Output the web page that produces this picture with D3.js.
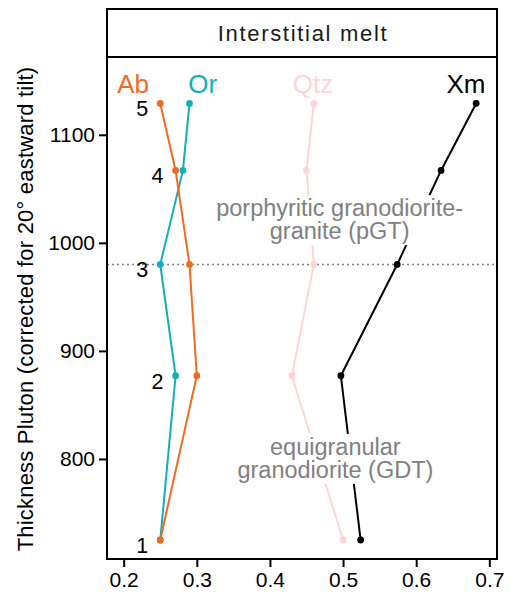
<!DOCTYPE html>
<html><head><meta charset="utf-8">
<script src="https://cdn.jsdelivr.net/npm/d3@7"></script>
<style>body{margin:0;background:#fff;} text{font-family:"Liberation Sans",Arial,sans-serif;}</style>
</head><body><svg id="c" width="511" height="605"></svg>
<script>
const levels = [1, 2, 3, 4, 5];
const thickness = [725, 877, 980, 1067, 1129];
const seriesNames = ["Qtz", "Xm", "Or", "Ab"];
const seriesColors = ["#FCD6D4", "#000000", "#13AFB8", "#F26A21"];
const abValues = [0.25, 0.300, 0.290, 0.271, 0.25];
const orValues = [0.25, 0.271, 0.25, 0.281, 0.29];
const qtzValues = [0.50, 0.430, 0.460, 0.450, 0.46];
const xmValues = [0.524, 0.497, 0.574, 0.634, 0.682];
const seriesLabelX = [0.459, 0.668, 0.308, 0.213];
const seriesLabelY = 1148;
const xTicks = [0.2, 0.3, 0.4, 0.5, 0.6, 0.7];
const yTicks = [800, 900, 1000, 1100];
const boundary = 980;
const annotations = [
  {lines: ["porphyritic granodiorite-", "granite (pGT)"], x: 0.4953, y: 1021.5},
  {lines: ["equigranular", "granodiorite (GDT)"], x: 0.4895, y: 800.5}
];

const seriesValues = {Qtz: qtzValues, Xm: xmValues, Or: orValues, Ab: abValues};

const svg = d3.select("#c");
const L = 107, R = 497, T = 57, B = 559, stripTop = 9;
const x = d3.scaleLinear().domain([0.1772, 0.7105]).range([L, R]);
const y = d3.scaleLinear().domain([707.4, 1172]).range([B, T]);

// strip
svg.append("rect").attr("x", L).attr("y", stripTop).attr("width", R - L).attr("height", T - stripTop)
  .attr("fill", "#fff").attr("stroke", "#000").attr("stroke-width", 2);
svg.append("text").attr("x", (L + R) / 2 + 1).attr("y", (stripTop + T) / 2 + 8).attr("text-anchor", "middle")
  .attr("font-size", 22).attr("letter-spacing", 1.7).attr("fill", "#1a1a1a").text("Interstitial melt");

// dotted boundary
svg.append("line").attr("x1", L).attr("x2", R).attr("y1", y(boundary)).attr("y2", y(boundary))
  .attr("stroke", "#7f7f7f").attr("stroke-width", 1.6).attr("stroke-dasharray", "2,3");

// series
seriesNames.forEach((name, i) => {
  const vals = seriesValues[name];
  const pts = levels.map((l, j) => [x(vals[j]), y(thickness[j])]);
  svg.append("path").attr("d", d3.line()(pts)).attr("fill", "none")
    .attr("stroke", seriesColors[i]).attr("stroke-width", 2);
});
seriesNames.forEach((name, i) => {
  const vals = seriesValues[name];
  svg.selectAll(null).data(levels).enter().append("circle")
    .attr("cx", (d, j) => x(vals[j])).attr("cy", (d, j) => y(thickness[j]))
    .attr("r", 3.4).attr("fill", seriesColors[i]);
});

// annotations with white boxes
annotations.forEach(a => {
  const g = svg.append("g");
  const lh = 23.5;
  const cx = x(a.x), cy = y(a.y);
  const texts = a.lines.map((t, k) => g.append("text").attr("x", cx)
    .attr("y", cy - lh / 2 + k * lh + 8).attr("text-anchor", "middle")
    .attr("font-size", 23.5).attr("fill", "#808080").text(t));
  let w = 0;
  texts.forEach(t => { w = Math.max(w, t.node().getComputedTextLength()); });
  g.insert("rect", "text").attr("x", cx - w / 2 - 3).attr("y", cy - lh - 1)
    .attr("width", w + 6).attr("height", 2 * lh + 3).attr("fill", "#fff");
});

// level labels
levels.forEach((l, j) => {
  svg.append("text").attr("x", x(Math.min(abValues[j], orValues[j])) - 18)
    .attr("y", y(thickness[j]) + 13).attr("text-anchor", "middle")
    .attr("font-size", 21.5).attr("fill", "#000").text(l);
});

// series labels
seriesNames.forEach((name, i) => {
  svg.append("text").attr("x", x(seriesLabelX[i])).attr("y", y(seriesLabelY) + 10)
    .attr("text-anchor", "middle").attr("font-size", 26).attr("fill", seriesColors[i]).text(name);
});

// panel border
svg.append("rect").attr("x", L).attr("y", T).attr("width", R - L).attr("height", B - T)
  .attr("fill", "none").attr("stroke", "#000").attr("stroke-width", 2);

// axes
const xa = svg.append("g").attr("transform", `translate(0,${B})`)
  .call(d3.axisBottom(x).tickValues(xTicks).tickSize(8).tickPadding(5).tickFormat(d3.format(".1f")));
const ya = svg.append("g").attr("transform", `translate(${L},0)`)
  .call(d3.axisLeft(y).tickValues(yTicks).tickSize(8).tickPadding(4).tickFormat(d3.format("d")));
[xa, ya].forEach(a => {
  a.select(".domain").remove();
  a.selectAll(".tick line").attr("stroke", "#000").attr("stroke-width", 2);
  a.selectAll(".tick text").attr("font-size", 21).attr("fill", "#000")
    .attr("font-family", "Liberation Sans, Arial, sans-serif");
});

svg.append("text").attr("transform", `translate(33,${(T + B) / 2 + 1}) rotate(-90)`)
  .attr("text-anchor", "middle").attr("font-size", 22).attr("letter-spacing", 0.2).attr("fill", "#000")
  .text("Thickness Pluton (corrected for 20° eastward tilt)");
</script></body></html>
